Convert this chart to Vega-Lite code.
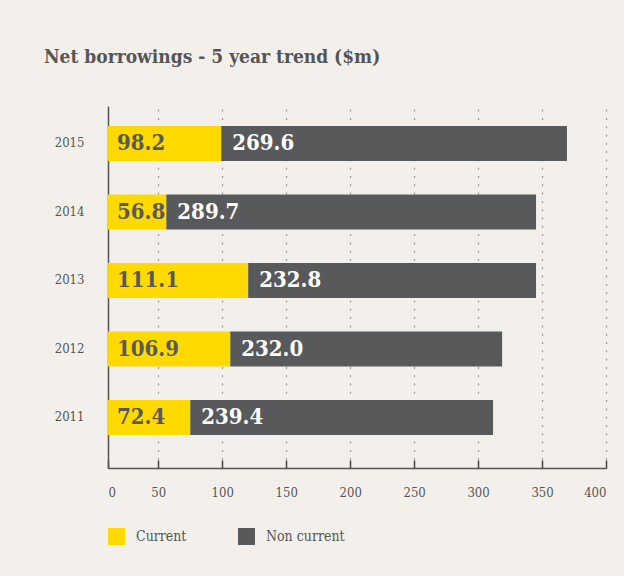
{
  "$schema": "https://vega.github.io/schema/vega-lite/v6.json",
  "width": 498,
  "height": 362,
  "autosize": "none",
  "padding": {"left": 108, "top": 106, "right": 18, "bottom": 108},
  "background": "#f3f0eb",
  "title": {
    "text": "Net borrowings - 5 year trend ($m)",
    "anchor": "start",
    "frame": "group",
    "dx": -64,
    "offset": 39,
    "font": "DejaVu Serif Condensed, DejaVu Serif",
    "fontSize": 19,
    "fontWeight": "bold",
    "color": "#555555"
  },
  "config": {
    "view": {"stroke": null},
    "font": "DejaVu Serif"
  },
  "data": {
    "values": [
      {"year": "2015", "series": "Current", "value": 98.2, "bar": 99.2},
      {"year": "2015", "series": "Non current", "value": 269.6, "bar": 270.3},
      {"year": "2014", "series": "Current", "value": 56.8, "bar": 56.3},
      {"year": "2014", "series": "Non current", "value": 289.7, "bar": 289.0},
      {"year": "2013", "series": "Current", "value": 111.1, "bar": 120.3},
      {"year": "2013", "series": "Non current", "value": 232.8, "bar": 225.0},
      {"year": "2012", "series": "Current", "value": 106.9, "bar": 106.3},
      {"year": "2012", "series": "Non current", "value": 232.0, "bar": 212.5},
      {"year": "2011", "series": "Current", "value": 72.4, "bar": 75.0},
      {"year": "2011", "series": "Non current", "value": 239.4, "bar": 236.7}
    ]
  },
  "transform": [
    {"stack": "bar", "groupby": ["year"], "sort": [{"field": "series", "order": "ascending"}], "as": ["v0", "v1"]}
  ],
  "encoding": {
    "y": {
      "field": "year",
      "type": "nominal",
      "sort": "descending",
      "scale": {"paddingInner": 0.489, "paddingOuter": 0.387, "align": 0.377},
      "axis": {
        "title": null,
        "ticks": false,
        "labelPadding": 24,
        "labelFontSize": 13,
        "labelColor": "#555555",
        "labelFont": "DejaVu Serif Condensed, DejaVu Serif",
        "domainColor": "#555555",
        "domainWidth": 1.5
      }
    }
  },
  "layer": [
    {
      "mark": {"type": "bar"},
      "encoding": {
        "x": {
          "field": "v0",
          "type": "quantitative",
          "scale": {"domain": [10.7, 400], "nice": false, "zero": false, "clamp": true},
          "axis": {
            "title": null,
            "values": [10.7, 50, 100, 150, 200, 250, 300, 350, 400],
            "labelExpr": "datum.value < 20 ? '0' : datum.label",
            "grid": true,
            "gridColor": "#999999",
            "gridDash": [2, 6.3],
            "gridWidth": 1.2,
            "tickSize": -8,
            "tickColor": "#444444",
            "tickWidth": 1.5,
            "domainColor": "#555555",
            "domainWidth": 1.5,
            "labelPadding": 26,
            "labelFontSize": 13,
            "labelColor": "#555555",
            "labelFont": "DejaVu Serif Condensed, DejaVu Serif"
          }
        },
        "x2": {"field": "v1"},
        "color": {
          "field": "series",
          "type": "nominal",
          "scale": {"domain": ["Current", "Non current"], "range": ["#ffd900", "#58595b"]},
          "legend": {
            "title": null,
            "orient": "none",
            "direction": "horizontal",
            "legendX": 0,
            "legendY": 422,
            "symbolType": "square",
            "symbolSize": 289,
            "symbolOpacity": 1,
            "symbolStrokeWidth": 0,
            "labelFontSize": 14,
            "labelColor": "#555555",
            "labelFont": "DejaVu Serif Condensed, DejaVu Serif",
            "labelOffset": 11,
            "columnPadding": 51
          }
        }
      }
    },
    {
      "transform": [{"filter": "datum.series === 'Current'"}],
      "mark": {"type": "text", "align": "left", "baseline": "middle", "dx": 9, "fontSize": 22, "fontWeight": "bold", "font": "DejaVu Serif Condensed, DejaVu Serif", "color": "#58595b"},
      "encoding": {
        "x": {"field": "v0", "type": "quantitative"},
        "text": {"field": "value", "type": "quantitative", "format": ".1f"}
      }
    },
    {
      "transform": [{"filter": "datum.series === 'Non current'"}],
      "mark": {"type": "text", "align": "left", "baseline": "middle", "dx": 11, "fontSize": 22, "fontWeight": "bold", "font": "DejaVu Serif Condensed, DejaVu Serif", "color": "#ffffff"},
      "encoding": {
        "x": {"field": "v0", "type": "quantitative"},
        "text": {"field": "value", "type": "quantitative", "format": ".1f"}
      }
    }
  ]
}
